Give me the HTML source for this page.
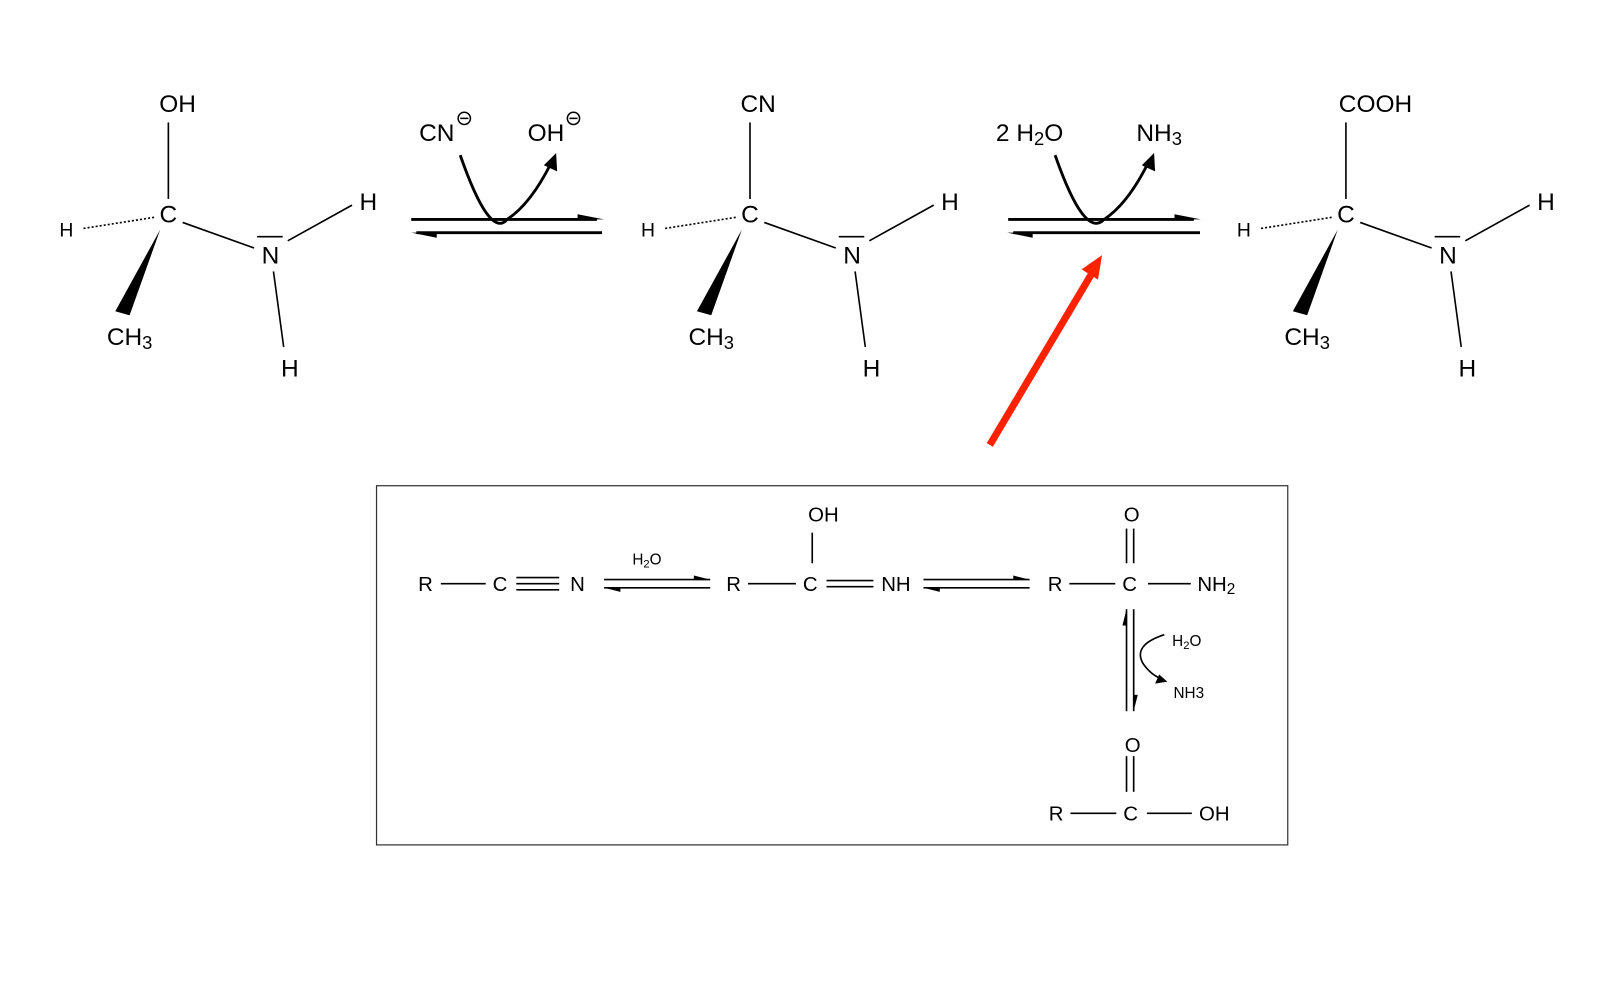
<!DOCTYPE html>
<html><head><meta charset="utf-8"><style>html,body{margin:0;padding:0;background:#fff}svg{display:block}text{font-family:"Liberation Sans","DejaVu Sans",sans-serif;fill:#000}</style></head>
<body>
<svg width="1600" height="1000" viewBox="0 0 1568 980" xmlns="http://www.w3.org/2000/svg">
<defs>
<g id="mol" stroke="#000" stroke-width="1.6" fill="none">
<line x1="0" y1="120" x2="0" y2="195"/>
<line x1="-14" y1="213" x2="-84" y2="224" stroke-dasharray="2,2"/>
<polygon points="-8,225 -52,305 -38,309" fill="#000" stroke="none"/>
<line x1="14" y1="218" x2="84" y2="243"/>
<line x1="87" y1="232" x2="112" y2="232"/>
<line x1="117" y1="236" x2="180" y2="201"/>
<line x1="103" y1="266" x2="113" y2="340"/>
</g>
<g id="molt" font-size="24">
<text x="0" y="218" text-anchor="middle">C</text>
<text x="-38" y="338" text-anchor="middle">CH<tspan font-size="18" dy="4">3</tspan></text>
<text x="-100" y="232" text-anchor="middle" font-size="19">H</text>
<text x="100" y="258" text-anchor="middle">N</text>
<text x="196" y="206" text-anchor="middle">H</text>
<text x="119" y="369" text-anchor="middle">H</text>
</g>
</defs>
<use href="#mol" x="165"/><use href="#molt" x="165"/>
<text x="174" y="110" text-anchor="middle" font-size="24">OH</text>
<use href="#mol" x="735"/><use href="#molt" x="735"/>
<text x="743" y="110" text-anchor="middle" font-size="24">CN</text>
<use href="#mol" x="1319"/><use href="#molt" x="1319"/>
<text x="1348" y="110" text-anchor="middle" font-size="24">COOH</text>

<g stroke="#000" stroke-width="2.8" fill="none">
<line x1="403" y1="215" x2="585" y2="215"/><line x1="408" y1="228" x2="590" y2="228"/>
<path d="M451,152 Q480,235 497,215 Q520,200 540,160"/>
<line x1="988" y1="215" x2="1170" y2="215"/><line x1="993" y1="228" x2="1176" y2="228"/>
<path d="M1034,152 Q1063,235 1082,215 Q1105,200 1125,160"/>
</g>
<g fill="#000">
<polygon points="566,210 592,215 566,215"/><polygon points="428,228 403,228 428,233"/>
<polygon points="1151,210 1177,215 1151,215"/><polygon points="1012,228 987,228 1012,233"/>
<polygon points="545,150 546,168 533,162"/><polygon points="1131,150 1132,168 1119,162"/>
</g>
<text x="428" y="138" text-anchor="middle" font-size="24">CN</text>
<text x="535" y="138" text-anchor="middle" font-size="24">OH</text>
<g stroke="#000" stroke-width="1.5" fill="none"><circle cx="455" cy="116" r="6"/><line x1="451" y1="116" x2="459" y2="116"/><circle cx="562" cy="116" r="6"/><line x1="558" y1="116" x2="566" y2="116"/></g>
<text x="1009" y="138" text-anchor="middle" font-size="24">2 H<tspan font-size="18" dy="4">2</tspan><tspan dy="-4">O</tspan></text>
<text x="1136" y="138" text-anchor="middle" font-size="24">NH<tspan font-size="18" dy="4">3</tspan></text>

<line x1="970" y1="436" x2="1070" y2="268" stroke="#ff2200" stroke-width="7"/>
<polygon points="1080,250 1060,264 1076,274" fill="#ff2200"/>

<rect x="369" y="476" width="893" height="352" fill="none" stroke="#333" stroke-width="1.2"/>
<g font-size="20">
<text x="417" y="579" text-anchor="middle">R</text><text x="490" y="579" text-anchor="middle">C</text><text x="566" y="579" text-anchor="middle">N</text>
<text x="719" y="579" text-anchor="middle">R</text><text x="794" y="579" text-anchor="middle">C</text><text x="878" y="579" text-anchor="middle">NH</text>
<text x="807" y="511" text-anchor="middle">OH</text>
<text x="1034" y="579" text-anchor="middle">R</text><text x="1107" y="579" text-anchor="middle">C</text><text x="1192" y="579" text-anchor="middle">NH<tspan font-size="15" dy="3">2</tspan></text>
<text x="1109" y="511" text-anchor="middle">O</text>
<text x="1110" y="737" text-anchor="middle">O</text>
<text x="1035" y="804" text-anchor="middle">R</text><text x="1108" y="804" text-anchor="middle">C</text><text x="1190" y="804" text-anchor="middle">OH</text>
</g>
<g font-size="15">
<text x="634" y="553" text-anchor="middle">H<tspan font-size="11" dy="3">2</tspan><tspan dy="-3">O</tspan></text>
<text x="1163" y="633" text-anchor="middle">H<tspan font-size="11" dy="3">2</tspan><tspan dy="-3">O</tspan></text>
<text x="1165" y="684" text-anchor="middle">NH3</text>
</g>
<g stroke="#000" stroke-width="1.6" fill="none">
<line x1="432" y1="572" x2="476" y2="572"/>
<line x1="506" y1="566" x2="548" y2="566"/><line x1="506" y1="572" x2="548" y2="572"/><line x1="506" y1="578" x2="548" y2="578"/>
<line x1="592" y1="568" x2="696" y2="568"/><line x1="592" y1="576" x2="696" y2="576"/>
<line x1="733" y1="572" x2="780" y2="572"/>
<line x1="810" y1="569" x2="856" y2="569"/><line x1="810" y1="575" x2="856" y2="575"/>
<line x1="796" y1="522" x2="796" y2="552"/>
<line x1="905" y1="568" x2="1009" y2="568"/><line x1="905" y1="576" x2="1009" y2="576"/>
<line x1="1048" y1="572" x2="1093" y2="572"/><line x1="1125" y1="572" x2="1167" y2="572"/>
<line x1="1104" y1="518" x2="1104" y2="552"/><line x1="1111" y1="518" x2="1111" y2="552"/>
<line x1="1104" y1="597" x2="1104" y2="697"/><line x1="1111" y1="597" x2="1111" y2="697"/>
<path d="M1141,622 Q1110,632 1120,650 Q1128,662 1140,666"/>
<line x1="1104" y1="741" x2="1104" y2="776"/><line x1="1111" y1="741" x2="1111" y2="776"/>
<line x1="1049" y1="797" x2="1094" y2="797"/><line x1="1124" y1="797" x2="1168" y2="797"/>
</g>
<g fill="#000">
<polygon points="680,564 696,568 680,568"/><polygon points="608,576 592,576 608,580"/>
<polygon points="993,564 1009,568 993,568"/><polygon points="921,576 905,576 921,580"/>
<polygon points="1104,597 1100,613 1104,613"/><polygon points="1111,697 1115,681 1111,681"/>
<polygon points="1144,668 1132,670 1136,661"/>
</g>
</svg>
</body></html>
